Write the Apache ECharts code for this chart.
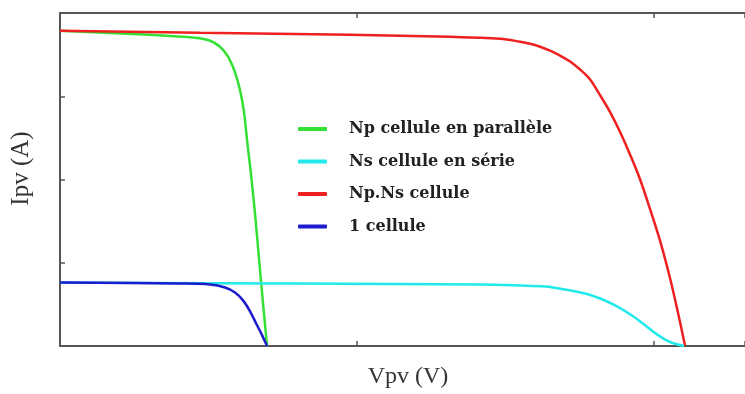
<!DOCTYPE html>
<html>
<head>
<meta charset="utf-8">
<script src="https://cdn.jsdelivr.net/npm/echarts@6/dist/echarts.min.js"></script>
<style>html,body{margin:0;padding:0;background:#fff;}#c{width:745px;height:394px;}</style>
</head>
<body>
<div id="c"></div>
<script>
// Values (V and I in arbitrary units)
const seriesNames = ['Np cellule en parallèle', 'Ns cellule en série', 'Np.Ns cellule', '1 cellule'];

const greenV = [0, 30.30, 45.45, 50.51, 53.87, 56.57, 58.92, 60.61, 61.95, 62.96, 64.31, 65.66, 67.00, 68.35, 69.70];
const greenI = [3.786, 3.738, 3.702, 3.667, 3.595, 3.476, 3.286, 3.071, 2.810, 2.476, 2.060, 1.583, 1.048, 0.512, 0];

const cyanV = [0, 80.81, 141.41, 154.88, 163.30, 170.03, 176.77, 181.82, 186.87, 191.92, 196.97, 201.35, 205.39, 210.10];
const cyanI = [0.762, 0.750, 0.738, 0.726, 0.714, 0.679, 0.631, 0.571, 0.488, 0.381, 0.250, 0.131, 0.048, 0];

const redV = [0, 47.14, 97.64, 131.31, 148.15, 154.88, 158.25, 161.62, 164.98, 168.35, 171.72, 175.08, 178.45, 181.82, 185.19, 188.55, 191.92, 195.29, 198.65, 202.02, 205.39, 208.08, 210.44];
const redI = [3.786, 3.762, 3.738, 3.714, 3.690, 3.655, 3.631, 3.595, 3.548, 3.488, 3.417, 3.321, 3.202, 3.012, 2.810, 2.571, 2.298, 2.000, 1.643, 1.262, 0.810, 0.393, 0];

const blueV = [0, 40.40, 50.51, 55.56, 58.92, 61.62, 63.97, 65.99, 68.01, 69.70];
const blueI = [0.762, 0.750, 0.738, 0.702, 0.643, 0.548, 0.417, 0.274, 0.131, 0];

const colors = ['#33e033', '#22eaea', '#ee2020', '#1c1ccc'];
const lineColor = '#555';

function pairs(xs, ys) { return xs.map((x, i) => [x, ys[i]]); }

const chart = echarts.init(document.getElementById('c'));
const axisCommon = {
  axisLine: { show: true, lineStyle: { color: lineColor, width: 2 } },
  axisTick: { show: true, inside: true, length: 5, lineStyle: { color: lineColor, width: 1.5 } },
  axisLabel: { show: false },
  splitLine: { show: false }
};
function mkSeries(name, xs, ys, color) {
  return {
    name: name, type: 'line', data: pairs(xs, ys), showSymbol: false,
    smooth: 0.35,
    lineStyle: { color: color, width: 2.5 }, itemStyle: { color: color }
  };
}
chart.setOption({
  animation: false,
  backgroundColor: '#fff',
  grid: { left: 60, right: 0, top: 13, bottom: 45 },
  xAxis: [
    Object.assign({ type: 'value', min: 0, max: 230.6, interval: 100, position: 'bottom',
      name: 'Vpv (V)', nameLocation: 'middle', nameGap: 19,
      nameTextStyle: { fontFamily: 'Liberation Serif', fontSize: 24, color: '#333', padding: [0, 0, 0, 11] } }, axisCommon),
    Object.assign({ type: 'value', min: 0, max: 230.6, interval: 100, position: 'top' }, axisCommon)
  ],
  yAxis: Object.assign({ type: 'value', min: 0, max: 4, interval: 1,
    name: 'Ipv (A)', nameLocation: 'middle', nameGap: 26, nameRotate: 90,
    nameTextStyle: { fontFamily: 'Liberation Serif', fontSize: 25, color: '#333', padding: [0, 0, 0, 22] } }, axisCommon),
  legend: {
    orient: 'vertical', left: 293, top: 115,
    itemWidth: 29, itemHeight: 4, itemGap: 14.5, icon: 'roundRect',
    data: [seriesNames[0], seriesNames[1], seriesNames[2], seriesNames[3]],
    textStyle: { fontFamily: 'DejaVu Serif', fontWeight: 'bold', fontSize: 16, color: '#222',
      lineHeight: 18, padding: [0, 0, 0, 17] }
  },
  series: [
    mkSeries(seriesNames[0], greenV, greenI, colors[0]),
    mkSeries(seriesNames[2], redV, redI, colors[2]),
    mkSeries(seriesNames[1], cyanV, cyanI, colors[1]),
    mkSeries(seriesNames[3], blueV, blueI, colors[3])
  ]
});
</script>
</body>
</html>
